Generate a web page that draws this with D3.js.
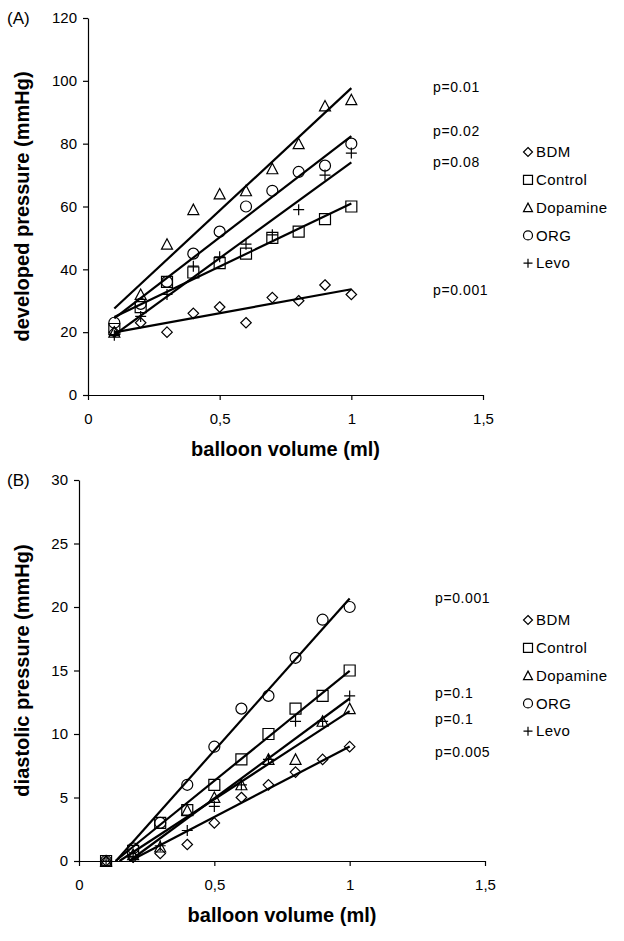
<!DOCTYPE html>
<html><head><meta charset="utf-8">
<script src="https://cdn.jsdelivr.net/npm/d3@7"></script>
<style>
body{margin:0;background:#fff}
text{font-family:"Liberation Sans",Arial,sans-serif;fill:#000}
</style>
</head><body>
<svg id="c" width="624" height="941"></svg>
<script>
// ---------- DATA ----------
const volumes = [0.1,0.2,0.3,0.4,0.5,0.6,0.7,0.8,0.9,1.0];
const seriesNames = ["BDM","Control","Dopamine","ORG","Levo"];
const seriesSymbols = ["diamond","square","triangle","circle","plus"];

// Panel A: developed pressure (mmHg)
const devBDM      = [20,23,20,26,28,23,31,30,35,32];
const devControl  = [21,28,36,39,42,45,50,52,56,60];
const devDopamine = [20,32,48,59,64,65,72,80,92,94];
const devORG      = [23,29,36,45,52,60,65,71,73,80];
const devLevo     = [19,25,32,41,44,48,51,59,70,77];

// Panel B: diastolic pressure (mmHg)
const diaBDM      = [0,0.3,0.6,1.3,3,5,6,7,8,9];
const diaControl  = [0,0.8,3,4,6,8,10,12,13,15];
const diaDopamine = [0,0.5,1.1,4,5,6,8,8,11,12];
const diaORG      = [0,1,3,6,9,12,13,16,19,20];
const diaLevo     = [0,0.3,1.2,2.4,4.3,6,8,11,11,13];

const xTicks = [0,0.5,1,1.5];
const yTicksA = [0,20,40,60,80,100,120];
const yTicksB = [0,5,10,15,20,25,30];

const pTextA = ["p=0.01","p=0.02","p=0.08","p=0.001"];
const pValA  = [98,84,74,33.5];
const pTextB = ["p=0.001","p=0.1","p=0.1","p=0.005"];
const pValB  = [20.7,13.2,11.2,8.6];

// ---------- DRAW ----------
const svg = d3.select("#c");

function symPath(type, s){
  const h = s/2;
  switch(type){
    case "diamond": return `M0,${-h}L${h},0L0,${h}L${-h},0Z`;
    case "square": return `M${-h},${-h}H${h}V${h}H${-h}Z`;
    case "triangle": return `M0,${-h}L${h},${h*0.9}L${-h},${h*0.9}Z`;
    case "circle": return `M${h},0A${h},${h} 0 1,1 ${-h},0A${h},${h} 0 1,1 ${h},0Z`;
    case "plus": return `M${-h},0H${h}M0,${-h}V${h}`;
  }
}

function regress(xs, ys){
  const mx = d3.mean(xs), my = d3.mean(ys);
  let sxy = 0, sxx = 0;
  xs.forEach((x,i)=>{ sxy += (x-mx)*(ys[i]-my); sxx += (x-mx)*(x-mx); });
  const m = sxy/sxx; return {m, b: my - m*mx};
}

const fmtX = d => String(d).replace(".", ",");

function panel(cfg){
  const g = svg.append("g");
  const x = d3.scaleLinear().domain([0,1.5]).range(cfg.xr);
  const y = d3.scaleLinear().domain([0,cfg.ymax]).range(cfg.yr);

  const ya = g.append("g").attr("transform",`translate(${cfg.xr[0]},0)`)
    .call(d3.axisLeft(y).tickValues(cfg.yTicks).tickSize(5).tickSizeOuter(0).tickPadding(6));
  const xa = g.append("g").attr("transform",`translate(0,${cfg.yr[0]})`)
    .call(d3.axisBottom(x).tickValues(xTicks).tickFormat(fmtX).tickSize(5).tickSizeOuter(0).tickPadding(13));
  [ya,xa].forEach(a=>{
    a.selectAll("path,line").attr("stroke","#000").attr("stroke-width",1.2);
    a.selectAll("text").attr("font-size",15).attr("font-family","Liberation Sans, Arial, sans-serif").attr("fill","#000");
  });

  // regression lines
  cfg.data.forEach(ys=>{
    const r = regress(volumes, ys);
    let x0 = volumes[0];
    if (r.m*x0 + r.b < 0) x0 = -r.b/r.m;
    const x1 = volumes[volumes.length-1];
    g.append("line")
      .attr("x1",x(x0)).attr("y1",y(r.m*x0+r.b))
      .attr("x2",x(x1)).attr("y2",y(r.m*x1+r.b))
      .attr("stroke","#000").attr("stroke-width",2.2);
  });

  // markers
  cfg.data.forEach((ys,si)=>{
    g.selectAll(null).data(ys).enter().append("path")
      .attr("transform",(d,i)=>`translate(${x(volumes[i])},${y(d)})`)
      .attr("d", symPath(seriesSymbols[si], seriesSymbols[si]==="diamond"?10.5:11))
      .attr("fill","none").attr("stroke","#000").attr("stroke-width",1.2);
  });

  // p-values
  cfg.pText.forEach((t,i)=>{
    g.append("text").attr("x",cfg.pX).attr("y",y(cfg.pVal[i])).attr("dy","0.35em")
      .attr("font-size",14).attr("letter-spacing",0.6).text(t);
  });

  // legend
  seriesNames.forEach((n,i)=>{
    const ly = cfg.legY + i*27.8;
    g.append("path").attr("transform",`translate(528,${ly})`)
      .attr("d",symPath(seriesSymbols[i],9)).attr("fill","none").attr("stroke","#000").attr("stroke-width",1.2);
    g.append("text").attr("x",536).attr("y",ly).attr("dy","0.35em")
      .attr("font-size",15).attr("letter-spacing",0.4).text(n);
  });

  // panel label
  g.append("text").attr("x",7).attr("y",cfg.yr[1]).attr("dy","0.35em").attr("font-size",17).text(cfg.label);

  // axis titles
  g.append("text").attr("transform",`translate(22,${(cfg.yr[0]+cfg.yr[1])/2}) rotate(-90)`)
    .attr("text-anchor","middle").attr("dy","0.35em").attr("font-size",20).attr("font-weight","bold").text(cfg.yTitle);
  g.append("text").attr("x",(cfg.xr[0]+cfg.xr[1])/2).attr("y",cfg.yr[0]+54).attr("dy","0.35em")
    .attr("text-anchor","middle").attr("font-size",20).attr("font-weight","bold").text("balloon volume (ml)");
}

panel({xr:[88,483], yr:[395,18], ymax:120, yTicks:yTicksA,
  data:[devBDM,devControl,devDopamine,devORG,devLevo],
  pText:pTextA, pVal:pValA, pX:433, legY:152, label:"(A)", yTitle:"developed pressure (mmHg)"});
panel({xr:[79,485], yr:[861,480], ymax:30, yTicks:yTicksB,
  data:[diaBDM,diaControl,diaDopamine,diaORG,diaLevo],
  pText:pTextB, pVal:pValB, pX:435, legY:620, label:"(B)", yTitle:"diastolic pressure (mmHg)"});
</script>
</body></html>
